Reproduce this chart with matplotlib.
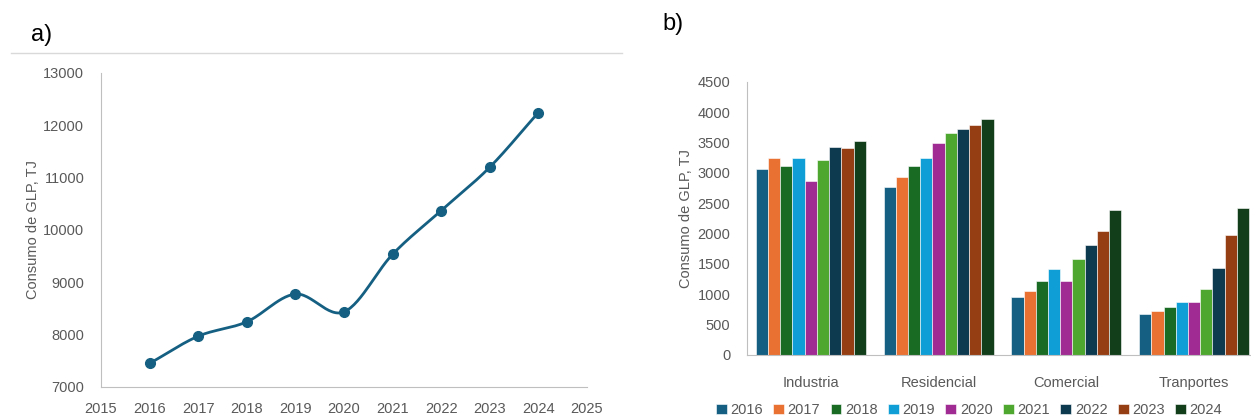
import matplotlib
matplotlib.use("Agg")
import matplotlib.pyplot as plt
import numpy as np

plt.rcParams['font.family'] = ['Liberation Sans', 'DejaVu Sans']

# panel a) - total consumption
years = [2016, 2017, 2018, 2019, 2020, 2021, 2022, 2023, 2024]
total = [7450, 7970, 8245, 8775, 8435, 9535, 10370, 11200, 12245]

# panel b) - consumption by sector
sectors = ["Industria", "Residencial", "Comercial", "Tranportes"]
bar_years = ["2016", "2017", "2018", "2019", "2020", "2021", "2022", "2023", "2024"]
industria = [3065, 3255, 3115, 3240, 2860, 3210, 3430, 3405, 3530]
residencial = [2765, 2930, 3115, 3240, 3490, 3665, 3720, 3790, 3895]
comercial = [950, 1060, 1222, 1413, 1212, 1578, 1810, 2040, 2395]
tranportes = [676, 732, 796, 878, 878, 1085, 1430, 1975, 2427]
bar_colors = ["#156082", "#E97132", "#196B24", "#0F9ED5", "#A02B93",
              "#4EA72E", "#0E3A50", "#963E13", "#123F1A"]

grey = "#595959"
axis_grey = "#BFBFBF"


def smooth(x, y, n=30):
    # catmull-rom style smoothing like excel's "smoothed line"
    x = np.asarray(x, float)
    y = np.asarray(y, float)
    px = np.concatenate([[2 * x[0] - x[1]], x, [2 * x[-1] - x[-2]]])
    py = np.concatenate([[2 * y[0] - y[1]], y, [2 * y[-1] - y[-2]]])
    xs, ys = [], []
    t = np.linspace(0, 1, n)
    for i in range(1, len(px) - 2):
        p0, p1, p2, p3 = [np.array([px[j], py[j]]) for j in range(i - 1, i + 3)]
        c1 = p1 + (p2 - p0) / 6
        c2 = p2 - (p3 - p1) / 6
        pts = ((1 - t) ** 3)[:, None] * p1 + (3 * (1 - t) ** 2 * t)[:, None] * c1 \
            + (3 * (1 - t) * t ** 2)[:, None] * c2 + (t ** 3)[:, None] * p2
        xs.extend(pts[:, 0])
        ys.extend(pts[:, 1])
    return xs, ys


fig = plt.figure(figsize=(12.51, 4.2), dpi=100)

# ---- a) line chart
ax1 = fig.add_axes([0.0807, 0.0786, 0.3885, 0.7476])
sx, sy = smooth(years, total)
ax1.plot(sx, sy, color="#156082", lw=2)
ax1.plot(years, total, "o", color="#156082", ms=7)
ax1.set_xlim(2015, 2025)
ax1.set_ylim(7000, 13000)
ax1.set_xticks(range(2015, 2026))
ax1.set_yticks(range(7000, 13001, 1000))
ax1.set_ylabel("Consumo de GLP, TJ", fontsize=10.5, color=grey, va="center")
ax1.yaxis.set_label_coords(-0.14, 0.5)
for s in ["top", "right"]:
    ax1.spines[s].set_visible(False)
for s in ["left", "bottom"]:
    ax1.spines[s].set_color(axis_grey)
ax1.tick_params(length=0, labelsize=10.5, labelcolor=grey)
ax1.tick_params(axis="y", pad=12)
ax1.tick_params(axis="x", pad=11)

fig.text(42 / 1251, 1 - 35 / 420, "a)", fontsize=17, ha="center", va="center")
fig.add_artist(plt.Line2D([11 / 1251, 622 / 1251], [1 - 53 / 420, 1 - 53 / 420],
                          color="#D9D9D9", lw=1))

# ---- b) grouped bars
ax2 = fig.add_axes([0.5971, 0.1548, 0.4085, 0.65])
data = np.array([industria, residencial, comercial, tranportes])
x = np.arange(len(sectors))
group = 0.862
w = group / len(bar_years)
for i, yr in enumerate(bar_years):
    ax2.bar(x - group / 2 + w * (i + 0.5), data[:, i], width=w, color=bar_colors[i],
            edgecolor="white", linewidth=0.4, label=yr)
ax2.set_xlim(-0.5, 3.5)
ax2.set_ylim(0, 4500)
ax2.set_yticks(range(0, 4501, 500))
ax2.set_xticks(x)
ax2.set_xticklabels(sectors)
ax2.set_ylabel("Consumo de GLP, TJ", fontsize=10.5, color=grey, va="center")
ax2.yaxis.set_label_coords(-0.119, 0.5)
for s in ["top", "right"]:
    ax2.spines[s].set_visible(False)
for s in ["left", "bottom"]:
    ax2.spines[s].set_color(axis_grey)
ax2.tick_params(length=0, labelsize=10.5, labelcolor=grey)
ax2.tick_params(axis="y", pad=12)
ax2.tick_params(axis="x", pad=15)

fig.text(673 / 1251, 1 - 24 / 420, "b)", fontsize=17, ha="center", va="center")

leg = fig.legend(*ax2.get_legend_handles_labels(), loc="center", ncol=9,
                 bbox_to_anchor=(969 / 1251, 1 - 410 / 420), frameon=False,
                 fontsize=10.5, handlelength=0.75, handleheight=0.75,
                 handletextpad=0.25, columnspacing=0.7, borderpad=0)
for t in leg.get_texts():
    t.set_color(grey)

fig.savefig("out.png", dpi=100)
